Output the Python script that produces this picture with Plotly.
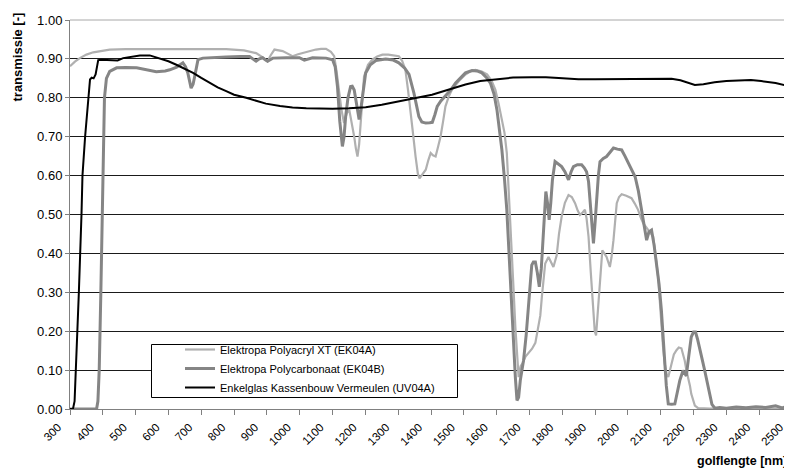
import plotly.graph_objects as go

# ---------------- data ----------------
series_names = [
    "Elektropa Polyacryl XT (EK04A)",
    "Elektropa Polycarbonaat (EK04B)",
    "Enkelglas Kassenbouw Vermeulen (UV04A)",
]

ek04a_x = [300, 315, 330, 350, 371, 395, 421, 470, 523, 600, 680, 776, 830, 850, 867, 885, 902, 912, 923, 948,
           965, 978, 995, 1009, 1030, 1049, 1065, 1080, 1095, 1105, 1112, 1120, 1127, 1135, 1143, 1151, 1158,
           1166, 1171, 1176, 1181, 1186, 1191, 1196, 1208, 1221, 1236, 1252, 1270, 1290, 1302, 1312, 1322,
           1330, 1338, 1345, 1353, 1360, 1365, 1374, 1384, 1392, 1399, 1406, 1414, 1421, 1429, 1437, 1444,
           1454, 1464, 1485, 1505, 1520, 1535, 1553, 1571, 1585, 1596, 1606, 1616, 1624, 1631, 1638, 1646,
           1652, 1657, 1662, 1667, 1673, 1679, 1688, 1697, 1708, 1718, 1726, 1733, 1738, 1743, 1748, 1758,
           1765, 1773, 1778, 1783, 1790, 1798, 1808, 1819, 1829, 1839, 1847, 1854, 1862, 1869, 1874, 1880,
           1887, 1895, 1899, 1903, 1907, 1912, 1917, 1922, 1928, 1935, 1945, 1950, 1956, 1961, 1966, 1973,
           1981, 1995, 2011, 2021, 2031, 2040, 2047, 2055, 2062, 2070, 2077, 2085, 2092, 2097, 2102, 2107,
           2112, 2118, 2123, 2128, 2133, 2140, 2148, 2155, 2163, 2168, 2173, 2178, 2184, 2189, 2193, 2199,
           2204, 2214, 2250, 2300, 2350, 2400, 2450, 2500]
ek04a_y = [0.881, 0.893, 0.902, 0.911, 0.917, 0.921, 0.924, 0.925, 0.925, 0.926, 0.926, 0.925, 0.922, 0.919,
           0.915, 0.905, 0.894, 0.910, 0.924, 0.920, 0.912, 0.907, 0.912, 0.915, 0.921, 0.924, 0.926, 0.926,
           0.918, 0.907, 0.870, 0.812, 0.770, 0.735, 0.760, 0.769, 0.740, 0.700, 0.670, 0.649, 0.680, 0.735,
           0.800, 0.855, 0.885, 0.898, 0.906, 0.911, 0.911, 0.909, 0.907, 0.895, 0.872, 0.820, 0.769, 0.710,
           0.649, 0.605, 0.593, 0.605, 0.615, 0.640, 0.658, 0.652, 0.649, 0.672, 0.700, 0.740, 0.778, 0.803,
           0.821, 0.843, 0.860, 0.868, 0.872, 0.868, 0.860, 0.843, 0.821, 0.785, 0.744, 0.710, 0.658, 0.550,
           0.426, 0.300, 0.211, 0.140, 0.082, 0.110, 0.117, 0.135, 0.145, 0.155, 0.170, 0.210, 0.240, 0.290,
           0.340, 0.374, 0.391, 0.380, 0.365, 0.380, 0.395, 0.450, 0.494, 0.530, 0.550, 0.545, 0.529, 0.510,
           0.499, 0.505, 0.512, 0.490, 0.443, 0.350, 0.254, 0.200, 0.189, 0.240, 0.305, 0.360, 0.408, 0.400,
           0.391, 0.365, 0.390, 0.434, 0.490, 0.529, 0.545, 0.552, 0.548, 0.542, 0.528, 0.512, 0.490, 0.477,
           0.468, 0.460, 0.452, 0.443, 0.390, 0.340, 0.280, 0.211, 0.160, 0.117, 0.090, 0.082, 0.100, 0.117,
           0.140, 0.151, 0.158, 0.156, 0.140, 0.125, 0.100, 0.082, 0.060, 0.039, 0.020, 0.009, 0.002, 0.001,
           0.002, 0.001, 0.002, 0.001, 0.002]

ek04b_x = [300, 381, 385, 389, 394, 398, 400, 402, 405, 411, 421, 442, 470, 503, 530, 563, 590, 604, 625, 644,
           652, 659, 669, 675, 680, 690, 705, 740, 776, 820, 847, 857, 867, 877, 887, 895, 902, 910, 918, 960,
           999, 1014, 1039, 1080, 1100, 1108, 1115, 1122, 1130, 1135, 1140, 1147, 1155, 1160, 1166, 1172, 1181,
           1186, 1191, 1201, 1215, 1232, 1262, 1285, 1302, 1320, 1333, 1340, 1348, 1356, 1363, 1372, 1384,
           1396, 1404, 1412, 1419, 1430, 1444, 1460, 1475, 1490, 1505, 1525, 1540, 1555, 1568, 1581, 1592,
           1601, 1609, 1616, 1624, 1631, 1639, 1646, 1652, 1657, 1662, 1667, 1672, 1682, 1690, 1697, 1702,
           1707, 1712, 1718, 1724, 1730, 1736, 1743, 1750, 1755, 1760, 1765, 1770, 1778, 1788, 1798, 1808,
           1819, 1827, 1834, 1846, 1859, 1867, 1874, 1880, 1884, 1889, 1895, 1900, 1905, 1910, 1915, 1925,
           1935, 1945, 1956, 1968, 1981, 1991, 2001, 2012, 2022, 2032, 2042, 2050, 2057, 2064, 2072, 2080,
           2087, 2095, 2102, 2107, 2112, 2117, 2123, 2133, 2143, 2150, 2158, 2168, 2178, 2186, 2193, 2200,
           2206, 2212, 2219, 2227, 2234, 2242, 2249, 2256, 2265, 2280, 2300, 2330, 2360, 2390, 2420, 2450,
           2470, 2490, 2500]
ek04b_y = [0.0, 0.0, 0.02, 0.10, 0.30, 0.50, 0.60, 0.70, 0.80, 0.850, 0.868, 0.877, 0.878, 0.877, 0.872, 0.867,
           0.869, 0.872, 0.879, 0.890, 0.880, 0.864, 0.825, 0.835, 0.855, 0.898, 0.902, 0.904, 0.905, 0.906,
           0.906, 0.900, 0.894, 0.900, 0.903, 0.898, 0.894, 0.898, 0.902, 0.903, 0.903, 0.897, 0.903, 0.902,
           0.898, 0.880, 0.829, 0.740, 0.675, 0.700, 0.752, 0.800, 0.829, 0.830, 0.820, 0.790, 0.744, 0.770,
           0.804, 0.864, 0.885, 0.896, 0.900, 0.897, 0.890, 0.876, 0.860, 0.840, 0.812, 0.780, 0.752, 0.738,
           0.735, 0.736, 0.737, 0.757, 0.778, 0.792, 0.804, 0.820, 0.838, 0.852, 0.864, 0.870, 0.869, 0.864,
           0.853, 0.838, 0.810, 0.769, 0.720, 0.666, 0.590, 0.512, 0.380, 0.254, 0.160, 0.082, 0.022, 0.030,
           0.073, 0.125, 0.190, 0.260, 0.330, 0.370, 0.378, 0.378, 0.350, 0.314, 0.360, 0.469, 0.559, 0.530,
           0.486, 0.530, 0.589, 0.636, 0.630, 0.623, 0.610, 0.589, 0.610, 0.623, 0.628, 0.628, 0.620, 0.610,
           0.585, 0.546, 0.480, 0.426, 0.480, 0.546, 0.600, 0.636, 0.644, 0.649, 0.660, 0.671, 0.668, 0.666,
           0.650, 0.632, 0.615, 0.597, 0.560, 0.512, 0.470, 0.434, 0.455, 0.460, 0.420, 0.374, 0.320, 0.254,
           0.190, 0.125, 0.060, 0.013, 0.012, 0.013, 0.040, 0.073, 0.099, 0.085, 0.140, 0.185, 0.198, 0.198,
           0.180, 0.151, 0.125, 0.099, 0.070, 0.039, 0.012, 0.002, 0.004, 0.002, 0.005, 0.003, 0.006, 0.004,
           0.008, 0.003, 0.008, 0.005]

uv04a_x = [300, 309, 314, 318, 327, 335, 338, 346, 355, 361, 366, 372, 378, 386, 396, 415, 432, 445, 462, 490,
           513, 543, 573, 600, 624, 650, 675, 700, 725, 750, 776, 800, 837, 870, 897, 940, 978, 1020, 1059,
           1100, 1150, 1201, 1250, 1302, 1350, 1403, 1450, 1505, 1550, 1606, 1650, 1707, 1750, 1789, 1849,
           1900, 1950, 2000, 2052, 2100, 2133, 2160, 2185, 2204, 2230, 2264, 2300, 2345, 2375, 2406, 2450,
           2480, 2500]
uv04a_y = [0.0, 0.0, 0.02, 0.10, 0.30, 0.50, 0.60, 0.70, 0.80, 0.847, 0.852, 0.850, 0.860, 0.897, 0.898, 0.897,
           0.895, 0.896, 0.902, 0.906, 0.909, 0.909, 0.902, 0.894, 0.885, 0.875, 0.864, 0.851, 0.838, 0.827,
           0.817, 0.808, 0.800, 0.791, 0.785, 0.779, 0.775, 0.773, 0.772, 0.772, 0.773, 0.776, 0.782, 0.791,
           0.799, 0.808, 0.820, 0.834, 0.843, 0.849, 0.852, 0.853, 0.853, 0.851, 0.848, 0.848, 0.848, 0.848,
           0.848, 0.849, 0.849, 0.845, 0.838, 0.833, 0.835, 0.840, 0.843, 0.845, 0.846, 0.843, 0.838, 0.832,
           0.828]

x_tick_values = list(range(300, 2501, 100))
x_tick_labels = [str(v) for v in x_tick_values]
y_title = "transmissie [-]"
x_title = "golflengte [nm]"

# ---------------- figure ----------------
# The page body has an 8 px default margin, so the figure is sized to fill
# the rest of the 792x470 window and positions below are given in window px.
FONT = "Liberation Sans, Arial, sans-serif"
OFF = 8
W, H = 792 - OFF, 470 - OFF
ML, MR, MT, MB = 70 - OFF, 0, 20 - OFF, 61
PW, PH = W - ML - MR, H - MT - MB


def px_to_paper_x(sx):
    return (sx - OFF - ML) / PW


def px_to_paper_y(sy):
    return (H - MB - (sy - OFF)) / PH


fig = go.Figure()
fig.add_trace(go.Scatter(x=ek04a_x, y=ek04a_y, mode="lines", name=series_names[0],
                         line=dict(color="#b0b0b0", width=2.2)))
fig.add_trace(go.Scatter(x=ek04b_x, y=ek04b_y, mode="lines", name=series_names[1],
                         line=dict(color="#858585", width=3)))
fig.add_trace(go.Scatter(x=uv04a_x, y=uv04a_y, mode="lines", name=series_names[2],
                         line=dict(color="#000000", width=2)))

fig.update_layout(
    width=W, height=H,
    margin=dict(l=ML, r=MR, t=MT, b=MB, pad=0),
    paper_bgcolor="white", plot_bgcolor="white",
    font=dict(family=FONT, color="#000000", size=13),
    showlegend=True,
    legend=dict(
        x=px_to_paper_x(180), y=px_to_paper_y(335), xanchor="left", yanchor="top",
        bgcolor="rgba(0,0,0,0)", borderwidth=0, tracegroupgap=0,
        font=dict(family=FONT, size=11, color="#000000"),
    ),
    xaxis=dict(
        range=[300, 2500], tickmode="array", tickvals=x_tick_values, ticktext=x_tick_labels,
        tickangle=-45, ticks="outside", ticklen=5, tickcolor="#808080", tickwidth=1,
        ticklabelshift=-12, ticklabelstandoff=1, ticklabeloverflow="allow",
        showline=True, linecolor="#808080", linewidth=1, showgrid=False, zeroline=False,
        tickfont=dict(family=FONT, size=11.5, color="#000000"), automargin=False,
    ),
    yaxis=dict(
        range=[0, 1], dtick=0.1, tick0=0, tickformat=".2f",
        ticks="outside", ticklen=4, tickcolor="#808080", tickwidth=1,
        showline=True, linecolor="#808080", linewidth=1,
        showgrid=True, gridcolor="#1a1a1a", gridwidth=1, zeroline=False,
        tickfont=dict(family=FONT, size=13, color="#000000"), automargin=False,
    ),
    shapes=[
        dict(type="line", xref="paper", yref="paper", x0=0, x1=1, y0=1, y1=1,
             line=dict(color="#a8a8a8", width=1), layer="above"),
        dict(type="rect", xref="paper", yref="paper",
             x0=px_to_paper_x(151.5), x1=px_to_paper_x(457.5),
             y0=px_to_paper_y(397.5), y1=px_to_paper_y(344.5),
             fillcolor="white", line=dict(color="#000000", width=1), layer="above"),
    ],
    annotations=[
        dict(text=f"<b>{y_title}</b>", xref="paper", yref="paper",
             x=px_to_paper_x(16.5), y=px_to_paper_y(57), xanchor="center", yanchor="middle",
             textangle=-90, showarrow=False, font=dict(family=FONT, size=13, color="#000000")),
        dict(text=f"<b>{x_title}</b>", xref="paper", yref="paper",
             x=px_to_paper_x(742), y=px_to_paper_y(461), xanchor="center", yanchor="middle",
             showarrow=False, font=dict(family=FONT, size=12.5, color="#000000")),
    ],
)

fig.write_html("out.html")
